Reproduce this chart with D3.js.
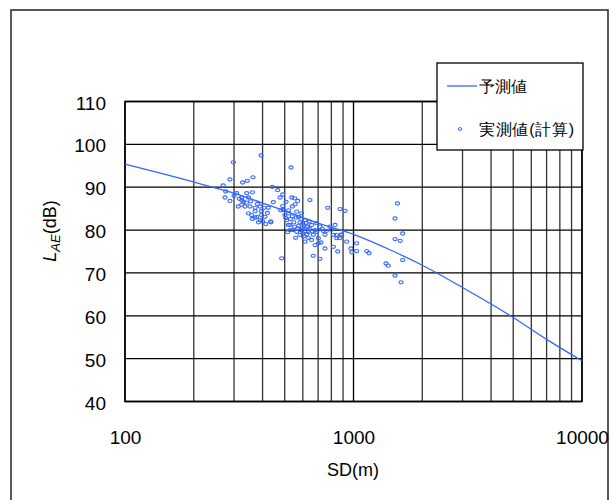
<!DOCTYPE html>
<html>
<head>
<meta charset="utf-8">
<script src="https://cdn.jsdelivr.net/npm/d3@7"></script>
<style>
body { margin: 0; background: #fff; }
text { font-family: "Liberation Sans", Arial, sans-serif; }
</style>
</head>
<body>
<script>
// axis ticks
var sdTicks = [100, 1000, 10000];
var laeTicks = [40, 50, 60, 70, 80, 90, 100, 110];

// predicted curve (予測値)
var predSD  = [100, 150, 200, 300, 400, 500, 700, 1000, 1500, 2000, 3000, 5000, 7000, 10000];
var predLAE = [95.4, 93.0, 91.2, 88.6, 86.3, 84.5, 81.6, 79.0, 75.0, 71.8, 66.6, 59.6, 54.5, 49.5];

// measured values (実測値(計算))
var measSD = [298, 394, 533, 288, 327, 343, 363, 269, 276, 274, 288, 308, 316, 324, 341, 361, 347, 330, 313, 324,
  335, 352, 371, 390, 407, 424, 441, 466, 477, 490, 446, 347, 358, 371, 377, 390, 396, 410, 413, 384,
  435, 361, 485, 493, 501, 510, 519, 527, 537, 540, 555, 570, 564, 574, 583, 593, 597, 614, 624, 634,
  645, 656, 667, 679, 690, 702, 713, 721, 738, 750, 771, 789, 817, 830, 845, 873, 918, 887, 934, 975,
  1032, 1032, 1142, 1169, 853, 817, 750, 713, 667, 679, 702, 656, 634, 604, 583, 564, 546, 527, 515, 614,
  558, 1557, 1520, 1641, 1520, 1600, 1641, 1387, 1419, 1520, 1614, 982, 870, 887, 843, 434, 505, 520, 530, 548,
  560, 575, 590, 600, 610, 620, 630, 645, 660, 540, 552, 570, 585, 600, 625, 640, 520, 690, 730, 760,
  800, 325, 340, 355, 300, 380, 395, 420, 400, 370, 490, 480, 507, 553];
var measLAE = [95.8, 97.4, 94.6, 91.8, 91.1, 91.5, 92.3, 90.4, 89.0, 87.6, 86.8, 88.6, 87.3, 87.6, 88.6, 88.8, 87.6, 86.6, 85.5, 85.9,
  85.5, 85.5, 85.2, 85.5, 85.2, 85.2, 90.1, 89.3, 87.6, 88.3, 86.5, 83.9, 83.5, 84.4, 83.1, 82.3, 83.5, 83.1, 81.4, 81.8,
  81.8, 82.6, 73.4, 84.7, 83.5, 82.3, 81.2, 80.0, 87.6, 85.5, 86.0, 86.8, 84.3, 83.1, 81.8, 83.9, 80.4, 82.3, 80.8, 79.5,
  87.0, 81.2, 78.9, 80.0, 81.6, 78.1, 80.8, 77.1, 79.8, 78.9, 85.2, 80.8, 78.9, 81.2, 78.1, 84.9, 84.5, 78.9, 77.3, 75.7,
  76.9, 75.1, 75.1, 74.6, 75.0, 76.1, 75.7, 73.3, 74.0, 76.5, 76.9, 77.7, 78.2, 78.5, 78.9, 79.6, 80.0, 81.2, 79.5, 77.3,
  78.2, 86.2, 82.7, 79.2, 77.9, 77.5, 73.0, 72.2, 71.7, 69.4, 67.8, 74.8, 78.1, 79.0, 78.9, 82.0, 82.8, 83.9, 82.6, 81.8,
  82.9, 81.0, 82.5, 81.5, 80.3, 81.7, 80.8, 80.2, 79.7, 83.2, 80.8, 80.4, 80.0, 79.2, 79.1, 82.0, 84.6, 79.6, 80.3, 79.8,
  80.1, 86.9, 86.4, 86.7, 88.0, 86.1, 84.4, 84.0, 82.0, 82.9, 85.6, 84.6, 86.6, 87.4];

var legendLabels = ["予測値", "実測値(計算)"];

var W = 611, H = 500;
var blue = "#3366ff";

var svg = d3.select("body").append("svg")
    .attr("width", W)
    .attr("height", H);

// outer frame
svg.append("rect")
    .attr("x", 11).attr("y", 10)
    .attr("width", 597).attr("height", 520)
    .attr("fill", "#fff")
    .attr("stroke", "#222")
    .attr("stroke-width", 1.5);

var x = d3.scaleLog().domain([100, 10000]).range([125, 582]);
var y = d3.scaleLinear().domain([40, 110]).range([401.5, 101.5]);

// vertical grid
svg.append("g").selectAll("line")
    .data(x.ticks())
    .enter()
    .append("line")
    .attr("x1", function(d) { return x(d); })
    .attr("x2", function(d) { return x(d); })
    .attr("y1", y(110))
    .attr("y2", y(40))
    .attr("stroke", function(d) { return sdTicks.indexOf(d) >= 0 ? "#000" : "#333"; })
    .attr("stroke-width", 1.3);

// horizontal grid
svg.append("g").selectAll("line")
    .data(laeTicks)
    .enter()
    .append("line")
    .attr("x1", x(100))
    .attr("x2", x(10000))
    .attr("y1", function(d) { return y(d); })
    .attr("y2", function(d) { return y(d); })
    .attr("stroke", "#000")
    .attr("stroke-width", 1.3);

// plot border
svg.append("rect")
    .attr("x", x(100)).attr("y", y(110))
    .attr("width", x(10000) - x(100))
    .attr("height", y(40) - y(110))
    .attr("fill", "none")
    .attr("stroke", "#000")
    .attr("stroke-width", 1.5);

// axes labels
var yAxis = d3.axisLeft(y).tickValues(laeTicks).tickSize(0).tickPadding(19);
svg.append("g")
    .attr("transform", "translate(" + x(100) + ",1.5)")
    .call(yAxis)
    .call(function(g) { g.select(".domain").remove(); })
    .selectAll("text")
    .attr("font-size", "19px")
    .attr("fill", "#000")
    .attr("font-family", "'Liberation Sans', Arial, sans-serif");

var xAxis = d3.axisBottom(x).tickValues(sdTicks).tickFormat(d3.format("d")).tickSize(0).tickPadding(29);
svg.append("g")
    .attr("transform", "translate(0," + y(40) + ")")
    .call(xAxis)
    .call(function(g) { g.select(".domain").remove(); })
    .selectAll("text")
    .attr("font-size", "19px")
    .attr("fill", "#000")
    .attr("font-family", "'Liberation Sans', Arial, sans-serif");

// axis titles
svg.append("text")
    .attr("x", 353)
    .attr("y", 476)
    .attr("text-anchor", "middle")
    .attr("font-size", "18px")
    .text("SD(m)");

var yt = svg.append("text")
    .attr("transform", "translate(56,231) rotate(-90)")
    .attr("text-anchor", "middle")
    .attr("font-size", "18px");
yt.append("tspan").attr("font-style", "italic").text("L");
yt.append("tspan").attr("font-style", "italic").attr("font-size", "13px").attr("dy", 4).text("AE");
yt.append("tspan").attr("dy", -4).text("(dB)");

// predicted line
var line = d3.line()
    .curve(d3.curveMonotoneX)
    .x(function(d, i) { return x(predSD[i]); })
    .y(function(d, i) { return y(predLAE[i]); });

svg.append("path")
    .datum(predSD)
    .attr("d", line)
    .attr("fill", "none")
    .attr("stroke", blue)
    .attr("stroke-width", 1.3);

// measured points
svg.append("g").selectAll("ellipse")
    .data(measSD)
    .enter()
    .append("ellipse")
    .attr("cx", function(d) { return x(d); })
    .attr("cy", function(d, i) { return y(measLAE[i]); })
    .attr("rx", 2.1)
    .attr("ry", 1.6)
    .attr("fill", "none")
    .attr("stroke", blue)
    .attr("stroke-width", 1.1);

// legend
var lg = svg.append("g");
lg.append("rect")
    .attr("x", 437).attr("y", 63)
    .attr("width", 146).attr("height", 87)
    .attr("fill", "#fff")
    .attr("stroke", "#000")
    .attr("stroke-width", 1.3);
lg.append("line")
    .attr("x1", 447).attr("x2", 477)
    .attr("y1", 86).attr("y2", 86)
    .attr("stroke", blue)
    .attr("stroke-width", 1.3);
lg.append("ellipse")
    .attr("cx", 460).attr("cy", 129)
    .attr("rx", 1.8).attr("ry", 1.4)
    .attr("fill", "none")
    .attr("stroke", blue)
    .attr("stroke-width", 1);
lg.selectAll("text.lab")
    .data(legendLabels)
    .enter()
    .append("text")
    .attr("class", "lab")
    .attr("x", 479)
    .attr("y", function(d, i) { return i === 0 ? 92 : 135; })
    .attr("font-family", "'Noto Sans CJK JP', sans-serif")
    .attr("font-size", "16px")
    .attr("fill", "#000")
    .attr("textLength", function(d, i) { return i === 0 ? 48 : 95; })
    .attr("lengthAdjust", "spacing")
    .text(function(d) { return d; });
</script>
</body>
</html>
